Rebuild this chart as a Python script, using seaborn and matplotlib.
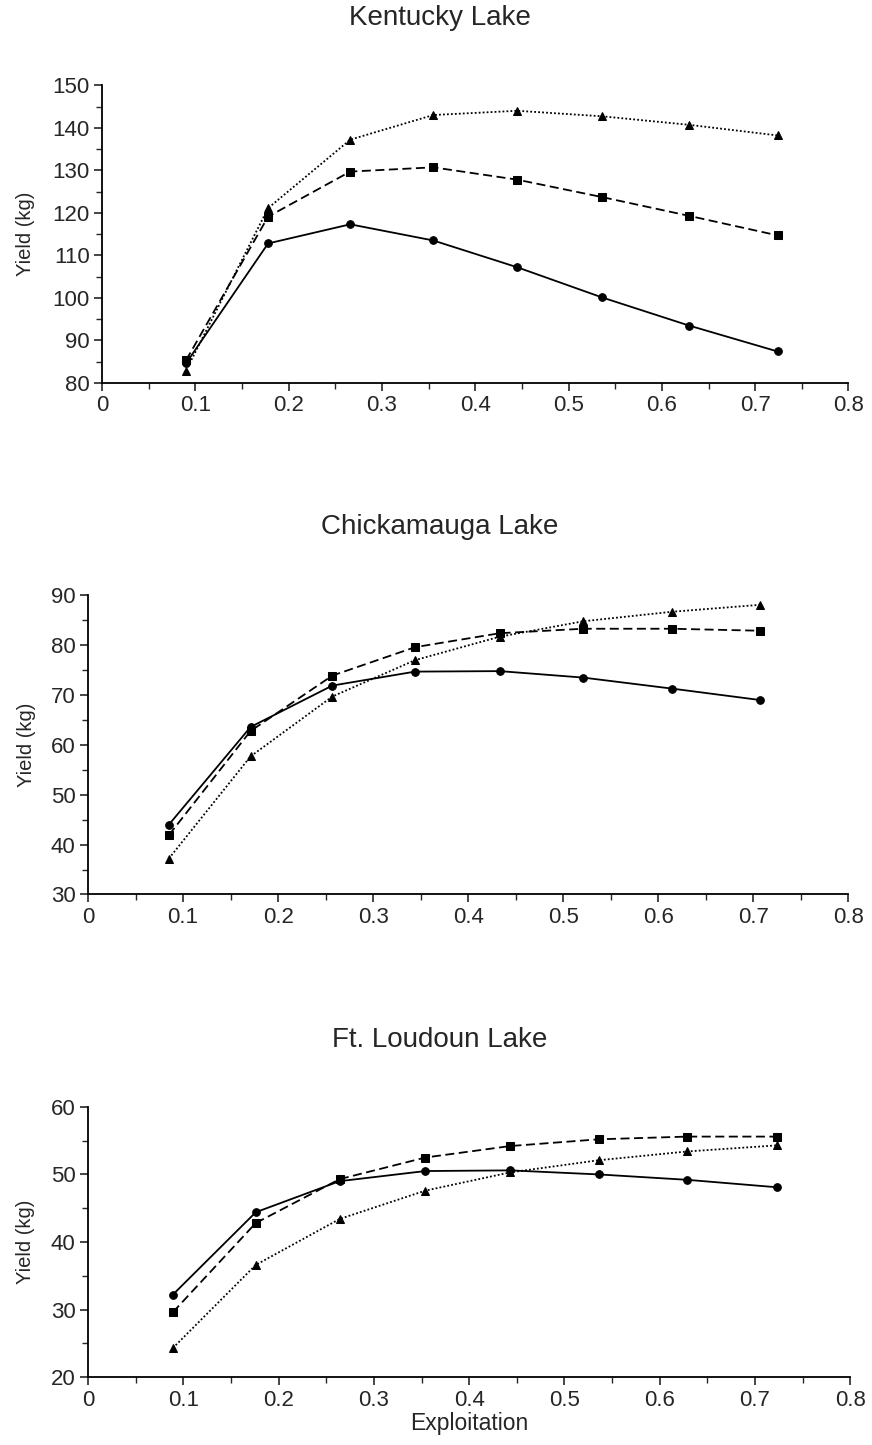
import pandas as pd
import matplotlib
matplotlib.use("Agg")
import matplotlib.pyplot as plt
from matplotlib.ticker import MultipleLocator, FuncFormatter
import seaborn as sns

# exploitation levels
ky_x = [0.090, 0.178, 0.266, 0.355, 0.445, 0.536, 0.629, 0.724]
ch_x = [0.085, 0.171, 0.257, 0.344, 0.433, 0.521, 0.614, 0.707]
fl_x = [0.089, 0.176, 0.264, 0.354, 0.443, 0.536, 0.629, 0.723]

# yield (kg), three series per lake
ky_circle = [84.6, 112.8, 117.3, 113.5, 107.2, 100.1, 93.5, 87.4]
ky_square = [85.3, 119.1, 129.7, 130.7, 127.8, 123.7, 119.3, 114.7]
ky_triangle = [82.9, 121.1, 137.2, 143.0, 144.0, 142.7, 140.7, 138.2]

ch_circle = [44.0, 63.6, 71.9, 74.7, 74.8, 73.5, 71.3, 69.0]
ch_square = [41.9, 62.8, 73.9, 79.6, 82.4, 83.3, 83.3, 82.9]
ch_triangle = [37.2, 57.7, 69.7, 77.0, 81.7, 84.8, 86.7, 88.1]

fl_circle = [32.2, 44.4, 49.0, 50.5, 50.6, 50.0, 49.2, 48.1]
fl_square = [29.6, 42.8, 49.3, 52.5, 54.2, 55.2, 55.6, 55.6]
fl_triangle = [24.3, 36.6, 43.4, 47.6, 50.3, 52.1, 53.4, 54.3]

lakes = ["Kentucky Lake", "Chickamauga Lake", "Ft. Loudoun Lake"]
series_names = ["circle", "square", "triangle"]


def make_df(x, a, b, c):
    rows = []
    for name, vals in zip(series_names, [a, b, c]):
        for xi, yi in zip(x, vals):
            rows.append({"x": xi, "y": yi, "series": name})
    return pd.DataFrame(rows)


data = [
    make_df(ky_x, ky_circle, ky_square, ky_triangle),
    make_df(ch_x, ch_circle, ch_square, ch_triangle),
    make_df(fl_x, fl_circle, fl_square, fl_triangle),
]

sns.set_style("ticks")
plt.rcParams["font.family"] = ["Liberation Sans", "DejaVu Sans"]

fig = plt.figure(figsize=(8.72, 14.45), dpi=100)
positions = [
    [0.117, 0.735, 0.856, 0.206],
    [0.101, 0.381, 0.872, 0.207],
    [0.101, 0.047, 0.874, 0.187],
]
ylims = [(80, 150), (30, 90), (20, 60)]
title_y = [1 - 18 / 1445, 1 - 527 / 1445, 1 - 1040 / 1445]
ylabel_x = [-0.09, -0.069, -0.069]

markers = {"circle": "o", "square": "s", "triangle": "^"}
dashes = {"circle": "", "square": (5, 2.5), "triangle": (1, 1.2)}

for i, df in enumerate(data):
    ax = fig.add_axes(positions[i])
    sns.lineplot(data=df, x="x", y="y", style="series", markers=markers,
                 dashes=dashes, color="black", linewidth=1.3, markersize=5.5,
                 markeredgecolor="black", legend=False, ax=ax)
    ax.set_xlim(0, 0.8)
    ax.set_ylim(*ylims[i])
    ax.xaxis.set_major_locator(MultipleLocator(0.1))
    ax.xaxis.set_minor_locator(MultipleLocator(0.05))
    ax.yaxis.set_major_locator(MultipleLocator(10))
    ax.yaxis.set_minor_locator(MultipleLocator(5))
    ax.xaxis.set_major_formatter(FuncFormatter(lambda v, p: f"{v:g}"))
    ax.tick_params(which="major", length=6, width=1.2, labelsize=16,
                   direction="out", pad=3)
    ax.tick_params(which="minor", length=4, width=1.0, direction="out")
    for s in ["top", "right"]:
        ax.spines[s].set_visible(False)
    for s in ["left", "bottom"]:
        ax.spines[s].set_linewidth(1.3)
        ax.spines[s].set_color("black")
    ax.set_ylabel("Yield (kg)", fontsize=14.5)
    ax.yaxis.set_label_coords(ylabel_x[i], 0.5)
    ax.set_xlabel("Exploitation" if i == 2 else "", fontsize=16.5, labelpad=1)
    fig.text(440 / 872, title_y[i], lakes[i], fontsize=20, ha="center", va="center")

fig.savefig("out.png", dpi=100)
